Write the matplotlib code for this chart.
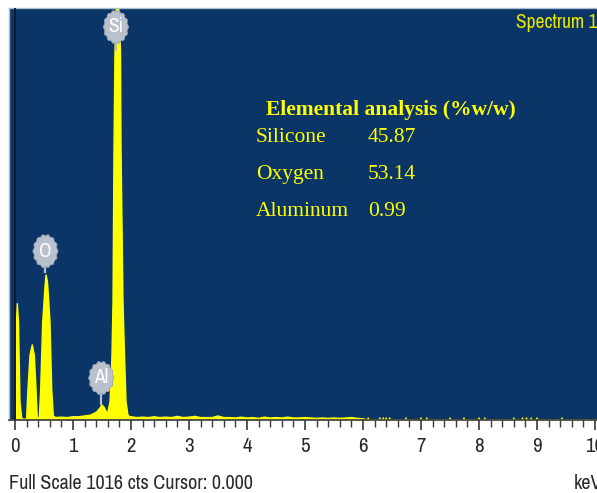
"""EDS spectrum of the silica sample with the elemental analysis table."""
import matplotlib
matplotlib.use("Agg")
import matplotlib.pyplot as plt
import numpy as np
from matplotlib import font_manager
from matplotlib.patches import Polygon
from matplotlib.ticker import MultipleLocator

# spectrum outline (energy in keV, counts) for the peak region
peak_energy = [-0.10, -0.01, 0.0, 0.017, 0.04, 0.06, 0.086, 0.115, 0.14, 0.17,
               0.20, 0.224, 0.259, 0.298, 0.333, 0.362, 0.384, 0.41,
               0.419, 0.443, 0.478, 0.517, 0.535, 0.56, 0.603, 0.633, 0.66,
               0.70, 0.80, 0.90, 1.00, 1.10, 1.20, 1.30,
               1.41, 1.466, 1.50, 1.534, 1.586,
               1.603, 1.638, 1.655, 1.672, 1.69, 1.698, 1.707, 1.724, 1.745,
               1.79, 1.819, 1.828, 1.845, 1.862, 1.888, 1.914, 1.948, 1.98]
peak_counts = [0, 0, 0, 218, 288, 243, 45, 5, 2, 2,
               3, 77, 161, 186, 161, 77, 7, 4,
               5, 77, 243, 330, 359, 342, 243, 77, 10,
               6, 7, 6, 8, 8, 10, 12,
               20, 30, 37, 32, 17,
               20, 45, 94, 161, 292, 490, 672, 912, 1016,
               1016, 912, 672, 490, 292, 161, 45, 12, 8]

# continuum between 2 and 6 keV
bg_energy = [2.0, 2.1, 2.2, 2.3, 2.4, 2.5, 2.6, 2.7, 2.8, 2.9,
             3.0, 3.1, 3.2, 3.3, 3.4, 3.5, 3.6, 3.7, 3.8, 3.9,
             4.0, 4.1, 4.2, 4.3, 4.4, 4.5, 4.6, 4.7, 4.8, 4.9,
             5.0, 5.1, 5.2, 5.3, 5.4, 5.5, 5.6, 5.7, 5.8, 5.9, 6.0]
bg_counts = [8, 6, 7, 6, 8, 6, 7, 6, 9, 6,
             7, 9, 6, 6, 6, 10, 6, 6, 5, 7,
             5, 6, 4, 7, 5, 6, 5, 7, 5, 5,
             6, 5, 4, 5, 4, 5, 4, 5, 6, 4, 3]

# isolated single counts above 6 keV
blip_energy = [6.09, 6.29, 6.35, 6.40, 6.46, 6.74, 7.0, 7.1, 7.5, 7.74,
               8.0, 8.1, 8.6, 8.75, 8.82, 8.9, 9.0, 9.43]
blip_counts = [5] * len(blip_energy)

# element markers: name, line energy, marker centre and stem end (counts)
element_names = ["Si", "O", "Al"]
element_energy = [1.74, 0.525, 1.487]
marker_counts = [973, 418, 104]
stem_end_counts = [916, 366, 40]

# quantification table
table_title = "Elemental analysis (%w/w)"
table_elements = ["Silicone", "Oxygen", "Aluminum"]
table_values = ["45.87", "53.14", "0.99"]

NAVY = "#0a3566"
YELLOW = "#ffff00"
BLOB = "#b9c1cc"
SERIF = ["Liberation Serif", "DejaVu Serif"]

# pick a condensed sans face if one is installed
narrow_faces = sorted({f.name for f in font_manager.fontManager.ttflist
                       if "narrow" in f.name.lower() or "condensed" in f.name.lower()
                       or f.stretch in ("condensed", "semi-condensed", 600)})
NARROW = narrow_faces[:1] + ["DejaVu Sans"]
STRETCH = "condensed"

W, H = 597, 493
fig = plt.figure(figsize=(W / 100, H / 100), dpi=100)
fig.patch.set_facecolor("white")

x_min, x_max = -0.1, 10.2
px_per_kev = 58.0
ax_left = 15 - 0.1 * px_per_kev
ax_width = (x_max - x_min) * px_per_kev
ax = fig.add_axes([ax_left / W, 73 / H, ax_width / W, 412 / H])
ax.set_facecolor(NAVY)
ax.set_xlim(x_min, x_max)
ax.set_ylim(0, 1020)

# assemble the full outline
energy = list(peak_energy) + list(bg_energy)
counts = list(peak_counts) + list(bg_counts)
for e, c in zip(blip_energy, blip_counts):
    energy += [e - 0.012, e, e + 0.012]
    counts += [0, c, 0]
energy += [x_max]
counts += [0]
energy = np.array(energy)
counts = np.array(counts)

ax.fill_between(energy, counts, 0, color=YELLOW, lw=0, zorder=2)
ax.plot(energy, counts, color=YELLOW, lw=1.0, zorder=2)

# cursor line at 0 keV
ax.axvline(0.0, color="#151b2a", lw=1.4, zorder=3)

# element markers
kev_per_px = 1 / px_per_kev
cts_per_px = 1020 / 412
theta = np.linspace(0, 2 * np.pi, 200)
rx, ry = 12 * kev_per_px, 16 * cts_per_px
for name, e, yc, ys in zip(element_names, element_energy, marker_counts, stem_end_counts):
    ax.plot([e, e], [ys, yc], color=BLOB, lw=1.6, zorder=4)
    r = 1 + 0.045 * np.cos(14 * theta)
    pts = np.column_stack([e + rx * r * np.cos(theta), yc + ry * r * np.sin(theta)])
    ax.add_patch(Polygon(pts, closed=True, facecolor=BLOB, edgecolor="#9aa4b4",
                         lw=0.6, zorder=5))
    ax.text(e, yc, name, color="white", fontsize=14, family=NARROW,
            fontstretch=STRETCH, ha="center", va="center", zorder=6)

# axes frame
ax.spines["right"].set_visible(False)
ax.spines["top"].set_color("#a9bcd2")
ax.spines["left"].set_color("#a9bcd2")
ax.spines["top"].set_linewidth(1.0)
ax.spines["left"].set_linewidth(1.0)
ax.spines["bottom"].set_color("#3a3a3a")
ax.spines["bottom"].set_linewidth(1.2)

ax.xaxis.set_major_locator(MultipleLocator(1))
ax.xaxis.set_minor_locator(MultipleLocator(0.2))
ax.tick_params(axis="x", which="major", direction="out", length=7.5, width=1.2,
               color="#3a3a3a", pad=5, labelsize=15, labelcolor="#2a2a2a")
ax.tick_params(axis="x", which="minor", direction="out", length=5, width=1.0,
               color="#3a3a3a")
ax.set_xticks(range(0, 11))
ax.set_xticklabels([str(i) for i in range(0, 11)], family=NARROW,
                   fontstretch=STRETCH)
ax.set_yticks([])

# captions around the plot
fig.text(9 / W, 1 - 489 / H, "Full Scale 1016 cts Cursor: 0.000", family=NARROW,
         fontstretch=STRETCH, fontsize=14.5, color="#2a2a2a", ha="left", va="baseline")
fig.text(574 / W, 1 - 489 / H, "keV", family=NARROW, fontstretch=STRETCH,
         fontsize=14.5, color="#2a2a2a", ha="left", va="baseline")
fig.text(597 / W, 1 - 28 / H, "Spectrum 1", family=NARROW, fontstretch=STRETCH,
         fontsize=14, color="#e6e600", ha="right", va="baseline")

# elemental analysis table
fig.text(391 / W, 1 - 115 / H, table_title, family=SERIF, fontsize=15.5,
         fontweight="bold", color=YELLOW, ha="center", va="baseline")
row_baselines = [142, 179, 216]
for name, val, yb in zip(table_elements, table_values, row_baselines):
    fig.text(256 / W, 1 - yb / H, name, family=SERIF, fontsize=15.5,
             color=YELLOW, ha="left", va="baseline")
    fig.text(368 / W, 1 - yb / H, val, family=SERIF, fontsize=15.5,
             color=YELLOW, ha="left", va="baseline")

fig.savefig("out.png", dpi=100)
